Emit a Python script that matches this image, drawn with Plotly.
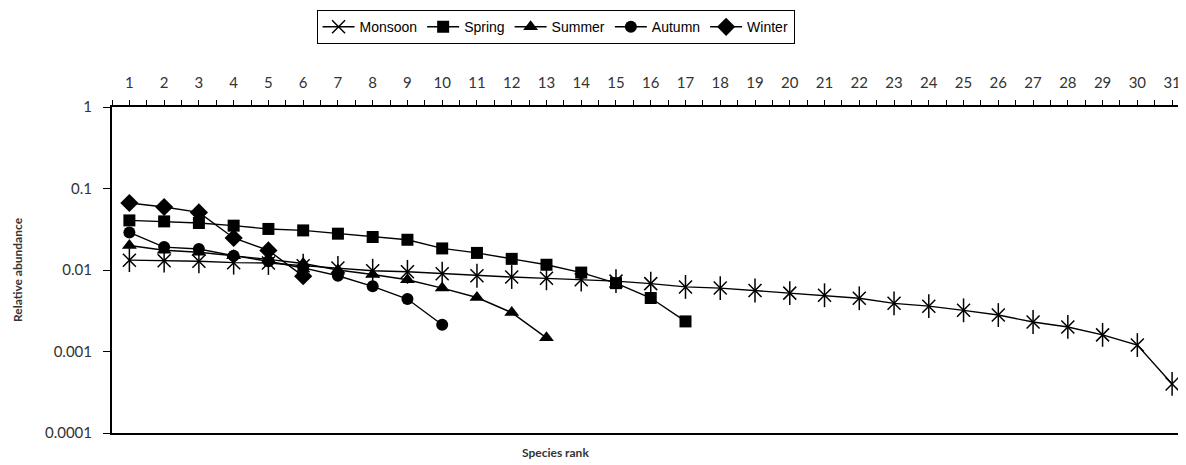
import plotly.graph_objects as go

ranks = list(range(1, 32))
tick_labels = [str(r) for r in ranks]

monsoon = [0.0132, 0.0130, 0.0128, 0.0123, 0.0122, 0.0113, 0.0106, 0.0098, 0.0095, 0.0090,
           0.0085, 0.0082, 0.0079, 0.0076, 0.0073, 0.0068, 0.0062, 0.0060, 0.0056, 0.0052,
           0.0049, 0.0045, 0.0039, 0.0036, 0.0032, 0.0028, 0.0023, 0.0020, 0.0016, 0.0012, 0.0004]
spring = [0.0406, 0.0395, 0.0377, 0.0350, 0.0319, 0.0306, 0.0279, 0.0254, 0.0235, 0.0184,
          0.0162, 0.0137, 0.0116, 0.0093, 0.0069, 0.00453, 0.00234]
summer = [0.0200, 0.0175, 0.0165, 0.0150, 0.0135, 0.0120, 0.0100, 0.0088, 0.0076, 0.0060,
          0.0046, 0.0030, 0.00147]
autumn = [0.0289, 0.0191, 0.0181, 0.0150, 0.0128, 0.0106, 0.0085, 0.0063, 0.0044, 0.00213]
winter = [0.0664, 0.0593, 0.0509, 0.0247, 0.0174, 0.0084]

y_ticks = [1, 0.1, 0.01, 0.001, 0.0001]
y_tick_labels = ["1", "0.1", "0.01", "0.001", "0.0001"]

LINE = dict(color="black", width=1.4)
fig = go.Figure()

fig.add_trace(go.Scatter(x=ranks[:len(monsoon)], y=monsoon, name="Monsoon", mode="lines+markers",
                         line=LINE,
                         marker=dict(symbol="x-thin-open", size=13, color="black",
                                     line=dict(color="black", width=1.5))))
fig.add_trace(go.Scatter(x=ranks[:len(monsoon)], y=monsoon, mode="markers", showlegend=False,
                         hoverinfo="skip",
                         marker=dict(symbol="line-ns-open", size=17, color="black",
                                     line=dict(color="black", width=1.5))))
fig.add_trace(go.Scatter(x=ranks[:len(spring)], y=spring, name="Spring", mode="lines+markers",
                         line=LINE, marker=dict(symbol="square", size=12, color="black")))
fig.add_trace(go.Scatter(x=ranks[:len(summer)], y=summer, name="Summer", mode="lines+markers",
                         line=LINE, marker=dict(symbol="triangle-up", size=13, color="black")))
fig.add_trace(go.Scatter(x=ranks[:len(autumn)], y=autumn, name="Autumn", mode="lines+markers",
                         line=LINE, marker=dict(symbol="circle", size=12, color="black")))
fig.add_trace(go.Scatter(x=ranks[:len(winter)], y=winter, name="Winter", mode="lines+markers",
                         line=LINE, marker=dict(symbol="diamond", size=14, color="black")))

TICKFONT = dict(family="Lato, Open Sans, sans-serif", size=15, color="#333333")

# The page body adds an 8px offset, so the figure is sized to compensate.
fig.update_layout(
    width=1178, height=457,
    margin=dict(l=104, r=0, t=99, b=32, autoexpand=False),
    paper_bgcolor="white", plot_bgcolor="white",
    showlegend=True,
    legend=dict(orientation="h", x=0.413, xanchor="center", y=1.297, yanchor="top",
                bordercolor="black", borderwidth=1,
                font=dict(family="Liberation Sans, Arial, sans-serif", size=14, color="black"),
                itemwidth=32, tracegroupgap=0),
    xaxis=dict(side="top", range=[0.5, 31.4], tickvals=ranks, ticktext=tick_labels,
               showline=True, linecolor="black", linewidth=2, mirror=True,
               ticks="outside", ticklen=5, tickwidth=1, tickcolor="black",
               ticklabelstandoff=6, automargin=False,
               minor=dict(ticks="outside", tick0=0.5, dtick=1, ticklen=5, tickcolor="black"),
               showgrid=False, zeroline=False, tickfont=TICKFONT, fixedrange=True),
    yaxis=dict(type="log", range=[-4, 0], tickvals=y_ticks, ticktext=y_tick_labels,
               showline=True, linecolor="black", linewidth=2,
               ticks="outside", ticklen=7, tickwidth=1, tickcolor="black",
               ticklabelstandoff=8, automargin=False,
               showgrid=False, zeroline=False, tickfont=TICKFONT,
               title=dict(text="<b>Relative abundance</b>", standoff=20,
                          font=dict(family="Lato, Open Sans, sans-serif", size=12, color="#333333"))),
    annotations=[dict(text="<b>Species rank</b>", xref="paper", yref="paper", x=0.413, y=0,
                      yshift=-19, showarrow=False, xanchor="center", yanchor="middle",
                      font=dict(family="Lato, Open Sans, sans-serif", size=12, color="#333333"))],
)

fig.write_html("out.html")
